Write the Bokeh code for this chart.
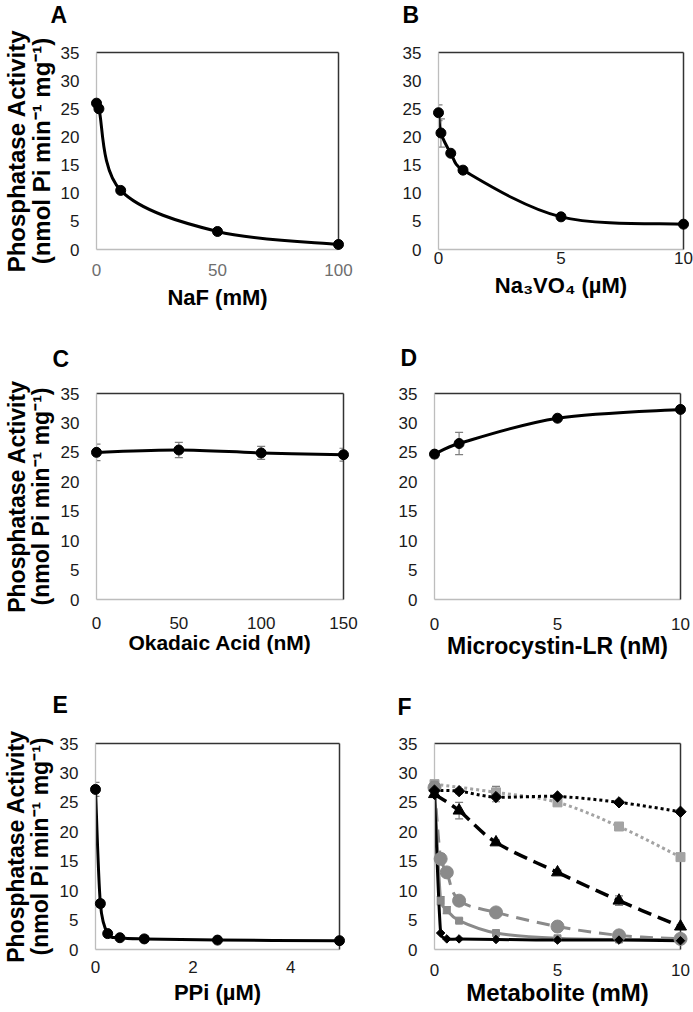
import numpy as np
from bokeh.plotting import figure
from bokeh.models import (Range1d, LinearAxis, FixedTicker, Whisker, Label,
                          ColumnDataSource, TeeHead)
from bokeh.layouts import column, row
from bokeh.embed import file_html
from bokeh.resources import INLINE

FONT = "Liberation Sans"

# ---------------- data ----------------
naf_x = [0, 1, 10, 50, 100]
naf_y = [26.0, 25.0, 10.5, 3.2, 0.9]
naf_err = [0.4, 0.6, 0.3, 0.2, 0.1]

van_x = [0, 0.1, 0.5, 1, 5, 10]
van_y = [24.3, 20.7, 17.1, 14.1, 5.8, 4.5]
van_err = [1.4, 2.5, 0.4, 0.5, 0.3, 0.2]

oka_x = [0, 50, 100, 150]
oka_y = [25.0, 25.4, 24.9, 24.6]
oka_err = [1.4, 1.3, 1.1, 1.1]

mic_x = [0, 1, 5, 10]
mic_y = [24.7, 26.5, 30.8, 32.3]
mic_err = [0.6, 1.9, 0.5, 0.3]

ppi_x = [0, 0.1, 0.25, 0.5, 1, 2.5, 5]
ppi_y = [27.2, 7.8, 2.7, 2.0, 1.8, 1.6, 1.5]
ppi_err = [1.2, 0.6, 0.3, 0.2, 0.2, 0.1, 0.1]

met_dotk_x = [0, 1, 2.5, 5, 7.5, 10]
met_dotk_y = [27.0, 26.9, 25.9, 26.0, 25.0, 23.4]
met_dotk_err = [0.3, 0.4, 0.8, 0.3, 0.3, 0.3]

met_dotg_x = [0, 2.5, 5, 7.5, 10]
met_dotg_y = [28.1, 26.7, 25.0, 20.9, 15.7]
met_dotg_err = [0.5, 1.0, 0.4, 0.4, 0.4]

met_dashk_x = [0, 1, 2.5, 5, 7.5, 10]
met_dashk_y = [26.4, 23.6, 18.2, 13.1, 8.3, 3.9]
met_dashk_err = [0.5, 1.4, 0.4, 0.4, 0.8, 0.3]

met_dashg_x = [0, 0.25, 0.5, 1, 2.5, 5, 7.5, 10]
met_dashg_y = [27.5, 15.4, 13.1, 8.3, 6.3, 3.9, 2.4, 1.8]
met_dashg_err = [0.5, 0.9, 0.6, 0.4, 0.3, 0.3, 0.2, 0.2]

met_solg_x = [0, 0.25, 0.5, 1, 2.5, 5, 7.5, 10]
met_solg_y = [28.0, 8.3, 6.7, 4.9, 2.8, 1.9, 1.7, 1.7]
met_solg_err = [0.5, 0.7, 0.6, 0.3, 0.2, 0.1, 0.1, 0.1]

met_solk_x = [0, 0.25, 0.5, 1, 2.5, 5, 7.5, 10]
met_solk_y = [26.2, 2.8, 1.8, 1.8, 1.7, 1.6, 1.6, 1.5]

y_ticks = [0, 5, 10, 15, 20, 25, 30, 35]
ylabel = "Phosphatase Activity\n(nmol Pi min\u207b\u00b9 mg\u207b\u00b9)"


# ---------------- helpers ----------------
def make_fig(width, height, borders, xmax, xticks, xlabel, xlabel_size,
             tick_standoff, label_standoff, xtick_color="#1a1a1a",
             ylabel_size=None, ylabel_standoff=4):
    l, r, t, b = borders
    p = figure(width=width, height=height, x_range=Range1d(0, xmax),
               y_range=Range1d(0, 35), output_backend="svg", title=None,
               toolbar_location=None, min_border_left=l, min_border_right=r,
               min_border_top=t, min_border_bottom=b)
    p.xgrid.visible = False
    p.ygrid.visible = False
    p.outline_line_color = None
    p.background_fill_color = "white"
    p.border_fill_color = "white"
    p.xaxis.ticker = FixedTicker(ticks=xticks)
    p.yaxis.ticker = FixedTicker(ticks=y_ticks)
    for ax in (p.xaxis[0], p.yaxis[0]):
        ax.major_tick_line_color = None
        ax.minor_tick_line_color = None
        ax.major_tick_out = 0
        ax.major_tick_in = 0
        ax.axis_line_color = "#bdbdbd"
        ax.axis_line_width = 1.3
        ax.major_label_text_font = FONT
        ax.major_label_text_font_size = "17px"
        ax.major_label_text_color = "#1a1a1a"
        ax.axis_label_text_font = FONT
        ax.axis_label_text_font_style = "bold"
        ax.axis_label_text_color = "black"
    xa = p.xaxis[0]
    xa.major_label_text_color = xtick_color
    xa.major_label_standoff = tick_standoff
    xa.axis_label = xlabel
    xa.axis_label_text_font_size = xlabel_size
    xa.axis_label_standoff = label_standoff
    ya = p.yaxis[0]
    ya.major_label_standoff = 17
    if ylabel_size is not None:
        ya.axis_label = ylabel
        ya.axis_label_text_font_size = ylabel_size
        ya.axis_label_text_line_height = 0.9
        ya.axis_label_standoff = ylabel_standoff
    for loc in ("above", "right"):
        ax = LinearAxis(ticker=FixedTicker(ticks=[]), axis_line_color="#333333",
                        axis_line_width=1.5, major_tick_line_color=None,
                        minor_tick_line_color=None, major_tick_out=0,
                        major_label_standoff=0,
                        major_label_text_font_size="0px")
        p.add_layout(ax, loc)
    p._px = ((width - l - r) / xmax, (height - t - b) / 35.0)
    return p


def strip(height, letters):
    s = figure(width=693, height=height, x_range=Range1d(0, 693),
               y_range=Range1d(0, height), output_backend="svg", title=None,
               toolbar_location=None, x_axis_type=None, y_axis_type=None,
               min_border=0, min_border_left=0, min_border_right=0,
               min_border_top=0, min_border_bottom=0)
    s.xgrid.visible = False
    s.ygrid.visible = False
    s.outline_line_color = None
    s.background_fill_color = "white"
    s.border_fill_color = "white"
    for txt, x, y in letters:
        s.add_layout(Label(x=x, y=y, x_units="screen", y_units="screen",
                           text=txt, text_font=FONT, text_font_style="bold",
                           text_font_size="23px", text_color="black",
                           text_align="left", text_baseline="middle"))
    return s


def smooth(p, xs, ys, color, width=3, dash="solid"):
    X = np.asarray(xs, float)
    Y = np.asarray(ys, float)
    sx, sy = p._px
    n = len(X)

    def dist(j, k):
        return float(np.hypot((X[k] - X[j]) * sx, (Y[k] - Y[j]) * sy))

    d = dict(x0=[], y0=[], x1=[], y1=[], cx0=[], cy0=[], cx1=[], cy1=[])
    for i in range(n - 1):
        a = max(i - 1, 0)
        e = min(i + 2, n - 1)
        d12 = dist(i, i + 1)
        d02 = dist(a, i + 1)
        d13 = dist(i, e)
        t1 = 1 / 6 if d02 / 6 <= d12 / 2 else (d12 / 2) / d02
        t2 = 1 / 6 if d13 / 6 <= d12 / 2 else (d12 / 2) / d13
        d["x0"].append(X[i]); d["y0"].append(Y[i])
        d["x1"].append(X[i + 1]); d["y1"].append(Y[i + 1])
        d["cx0"].append(X[i] + t1 * (X[i + 1] - X[a]))
        d["cy0"].append(Y[i] + t1 * (Y[i + 1] - Y[a]))
        d["cx1"].append(X[i + 1] - t2 * (X[e] - X[i]))
        d["cy1"].append(Y[i + 1] - t2 * (Y[e] - Y[i]))
    p.bezier(x0="x0", y0="y0", x1="x1", y1="y1", cx0="cx0", cy0="cy0",
             cx1="cx1", cy1="cy1", source=ColumnDataSource(d),
             line_color=color, line_width=width, line_dash=dash,
             line_cap="butt")


def errbars(p, xs, ys, errs, color="#7f7f7f"):
    src = ColumnDataSource(dict(x=xs,
                                lo=[y - e for y, e in zip(ys, errs)],
                                hi=[y + e for y, e in zip(ys, errs)]))
    w = Whisker(source=src, base="x", lower="lo", upper="hi",
                line_color=color, line_width=1.2,
                upper_head=TeeHead(size=8, line_color=color, line_width=1.2),
                lower_head=TeeHead(size=8, line_color=color, line_width=1.2))
    p.add_layout(w)


def points(p, xs, ys, marker="circle", size=10, color="black", angle=0.0):
    r = p.scatter(xs, ys, marker=marker, size=size, fill_color=color,
                  line_color=color, angle=angle)
    r.level = "overlay"


LW, RW = 365, 328
H1, H2, H3 = 293, 289, 286

s1 = strip(27, [("A", 50, 12.5), ("B", 402, 12.5)])
s2 = strip(56, [("C", 52, 17.5), ("D", 400, 19)])
s3 = strip(60, [("E", 52, 21), ("F", 397, 19)])

# ---- A ----
pa = make_fig(LW, H1, (96, 27, 22, 71), 100, [0, 50, 100],
              "NaF (mM)", "22px", 14, 6, "#6e6e6e", "24px", 3)
errbars(pa, naf_x, naf_y, naf_err)
smooth(pa, naf_x, naf_y, "black")
points(pa, naf_x, naf_y)

# ---- B ----
pb = make_fig(RW, H1, (73, 10, 25, 66), 10, [0, 5, 10],
              "Na\u2083VO\u2084 (\u00b5M)", "22px", 2, 6)
errbars(pb, van_x, van_y, van_err)
smooth(pb, van_x, van_y, "black")
points(pb, van_x, van_y)

# ---- C ----
pc = make_fig(LW, H2, (96, 22, 15, 66), 150, [0, 50, 100, 150],
              "Okadaic Acid (nM)", "21px", 17, -1, ylabel_size="23px")
errbars(pc, oka_x, oka_y, oka_err)
smooth(pc, oka_x, oka_y, "black")
points(pc, oka_x, oka_y)

# ---- D ----
pd_ = make_fig(RW, H2, (69, 13, 17, 66), 10, [0, 5, 10],
               "Microcystin-LR (nM)", "23px", 18, 0)
errbars(pd_, mic_x, mic_y, mic_err)
smooth(pd_, mic_x, mic_y, "black")
points(pd_, mic_x, mic_y)

# ---- E ----
pe = make_fig(LW, H3, (93, 26, 16, 61), 5, [0, 2, 4],
              "PPi (\u00b5M)", "22px", 11, 4, ylabel_size="23px")
errbars(pe, ppi_x, ppi_y, ppi_err)
smooth(pe, ppi_x, ppi_y, "black")
points(pe, ppi_x, ppi_y)

# ---- F ----
pf = make_fig(RW, H3, (69, 13, 18, 62), 10, [0, 5, 10],
              "Metabolite (mM)", "24px", 14, 0)
GREY = "#8a8a8a"
LGREY = "#a3a3a3"
errbars(pf, met_dotg_x, met_dotg_y, met_dotg_err)
errbars(pf, met_dashg_x, met_dashg_y, met_dashg_err)
errbars(pf, met_solg_x, met_solg_y, met_solg_err)
errbars(pf, met_dashk_x, met_dashk_y, met_dashk_err)
errbars(pf, met_dotk_x, met_dotk_y, met_dotk_err)
smooth(pf, met_dotg_x, met_dotg_y, LGREY, 3, "3 3")
smooth(pf, met_dashg_x, met_dashg_y, GREY, 3, "13 8")
smooth(pf, met_solg_x, met_solg_y, GREY, 3)
smooth(pf, met_dashk_x, met_dashk_y, "black", 3.5, "14 7")
smooth(pf, met_dotk_x, met_dotk_y, "black", 3, "3 3")
smooth(pf, met_solk_x, met_solk_y, "black", 3)
points(pf, met_dotg_x, met_dotg_y, "square", 9, LGREY)
points(pf, met_dashg_x, met_dashg_y, "circle", 13, GREY)
points(pf, met_solg_x, met_solg_y, "square", 7, GREY)
points(pf, met_dashk_x, met_dashk_y, "triangle", 12, "black")
points(pf, met_dotk_x, met_dotk_y, "square", 8, "black", np.pi / 4)
points(pf, met_solk_x, met_solk_y, "square", 6, "black", np.pi / 4)

layout = column(s1, row(pa, pb), s2, row(pc, pd_), s3, row(pe, pf))
open("out.html", "w").write(file_html(layout, INLINE))
